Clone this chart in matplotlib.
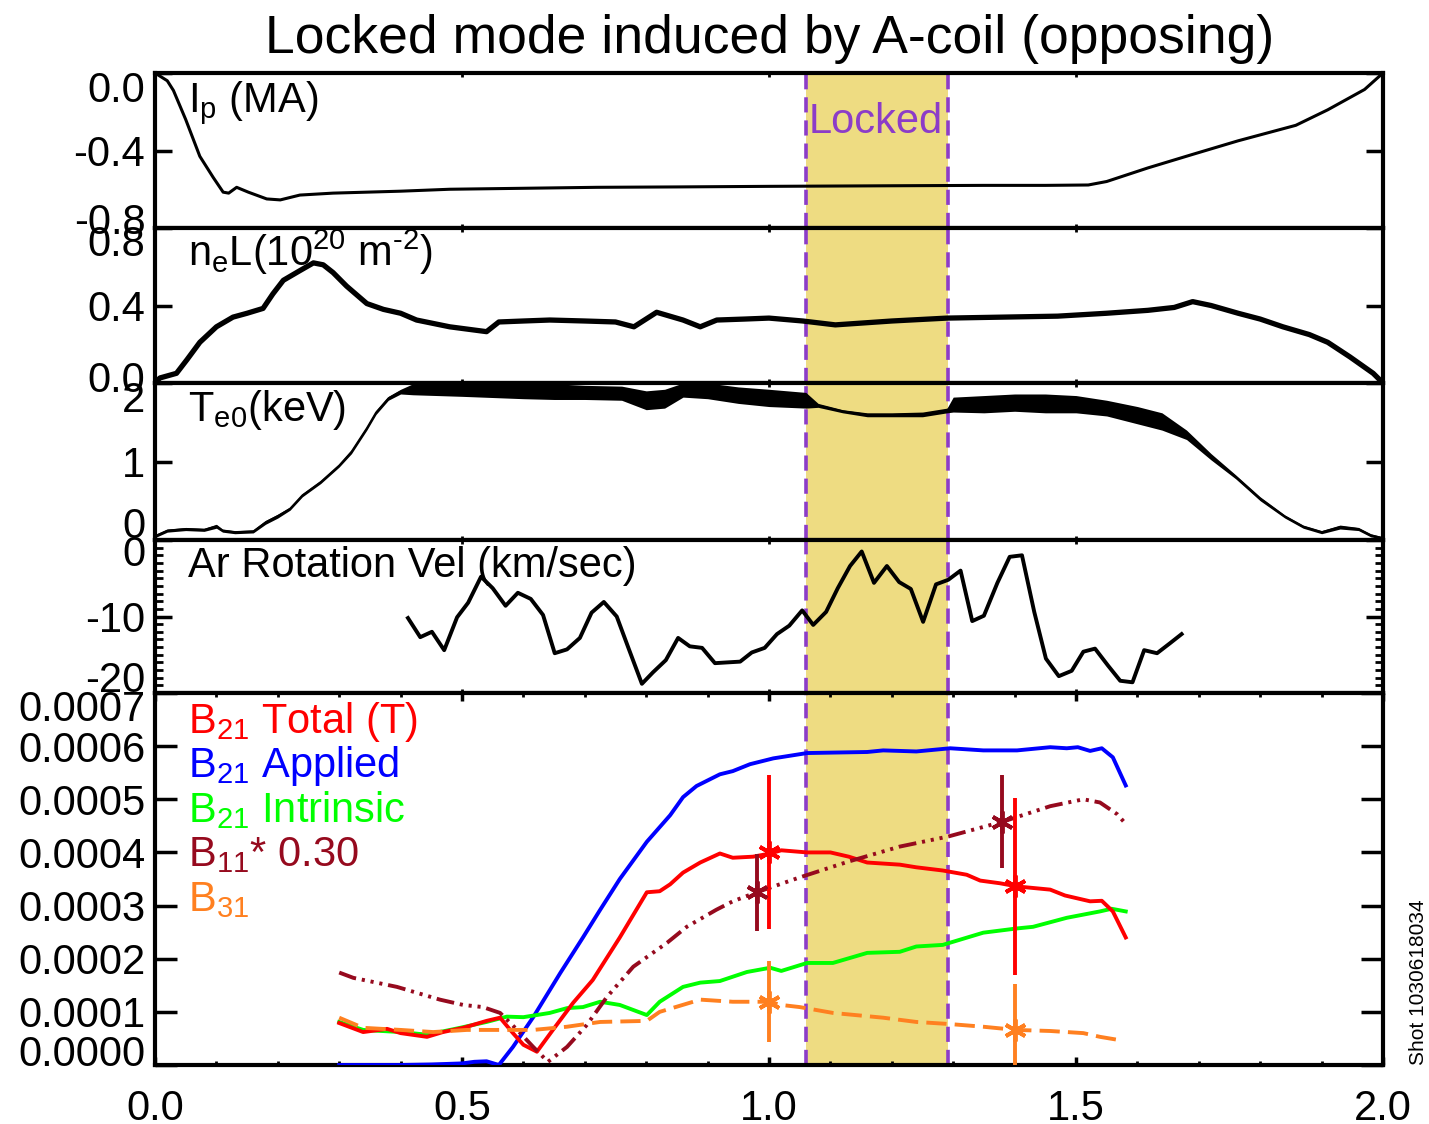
import numpy as np
import matplotlib
matplotlib.use('Agg')
import matplotlib.pyplot as plt
import matplotlib.transforms as mtransforms
from matplotlib.ticker import MultipleLocator

plt.rcParams['font.family'] = ['Liberation Sans', 'DejaVu Sans']
plt.rcParams['mathtext.fontset'] = 'custom'
plt.rcParams['mathtext.rm'] = 'Liberation Sans'
plt.rcParams['mathtext.it'] = 'Liberation Sans:italic'
plt.rcParams['mathtext.bf'] = 'Liberation Sans:bold'
plt.rcParams['axes.unicode_minus'] = False

# ---- data ----
lock_start, lock_end = 1.060, 1.291

ip_t = [0.0, 0.02, 0.03, 0.05, 0.073, 0.095, 0.111, 0.12, 0.133, 0.152, 0.182, 0.204, 0.236,
        0.29, 0.40, 0.48, 0.60, 0.72, 0.85, 1.0, 1.2, 1.35, 1.45, 1.52, 1.55, 1.617, 1.69,
        1.764, 1.858, 1.91, 1.97, 2.0]
ip_v = [0.0, -0.04, -0.09, -0.24, -0.43, -0.54, -0.615, -0.62, -0.59, -0.615, -0.65, -0.655,
        -0.63, -0.62, -0.61, -0.60, -0.595, -0.59, -0.588, -0.585, -0.582, -0.58, -0.58, -0.578,
        -0.56, -0.49, -0.42, -0.35, -0.27, -0.19, -0.085, 0.0]

ne_t = [0.0, 0.008, 0.035, 0.052, 0.073, 0.10, 0.127, 0.15, 0.176, 0.192, 0.209, 0.236, 0.258,
        0.274, 0.29, 0.312, 0.345, 0.372, 0.40, 0.426, 0.48, 0.54, 0.56, 0.60, 0.643, 0.70, 0.75,
        0.78, 0.817, 0.86, 0.888, 0.915, 0.96, 1.0, 1.055, 1.108, 1.2, 1.29, 1.38, 1.47, 1.55,
        1.617, 1.66, 1.69, 1.72, 1.764, 1.80, 1.837, 1.88, 1.91, 1.946, 1.984, 2.0]
ne_v = [0.0, 0.026, 0.05, 0.12, 0.21, 0.29, 0.34, 0.36, 0.385, 0.46, 0.53, 0.58, 0.62, 0.61,
        0.57, 0.50, 0.41, 0.38, 0.36, 0.325, 0.29, 0.265, 0.315, 0.32, 0.325, 0.32, 0.315, 0.29,
        0.365, 0.325, 0.29, 0.325, 0.33, 0.335, 0.32, 0.30, 0.32, 0.335, 0.34, 0.345, 0.36,
        0.375, 0.39, 0.42, 0.40, 0.36, 0.33, 0.29, 0.25, 0.21, 0.135, 0.05, 0.0]

te_t = [0.0, 0.02, 0.05, 0.08, 0.10, 0.11, 0.13, 0.16, 0.18, 0.20, 0.22, 0.24, 0.27, 0.30,
        0.32, 0.345, 0.36, 0.38, 0.40, 0.42, 0.50, 0.60, 0.65, 0.70, 0.76, 0.80, 0.83, 0.86,
        0.90, 0.95, 1.00, 1.06, 1.08, 1.12, 1.16, 1.20, 1.25, 1.29, 1.30, 1.35, 1.40, 1.45,
        1.50, 1.55, 1.60, 1.64, 1.68, 1.72, 1.76, 1.80, 1.84, 1.87, 1.90, 1.93, 1.96, 1.98, 2.0]
te_lo = [0.03, 0.10, 0.12, 0.11, 0.15, 0.10, 0.08, 0.09, 0.20, 0.28, 0.38, 0.55, 0.72, 0.93,
         1.10, 1.40, 1.60, 1.78, 1.86, 1.85, 1.83, 1.80, 1.79, 1.79, 1.78, 1.66, 1.68, 1.82,
         1.80, 1.74, 1.70, 1.68, 1.69, 1.62, 1.57, 1.57, 1.57, 1.62, 1.63, 1.62, 1.64, 1.62,
         1.62, 1.58, 1.48, 1.40, 1.28, 1.02, 0.78, 0.50, 0.28, 0.15, 0.08, 0.14, 0.12, 0.04, 0.01]
te_hi = [0.07, 0.14, 0.16, 0.15, 0.20, 0.14, 0.12, 0.13, 0.25, 0.33, 0.42, 0.59, 0.76, 0.97,
         1.15, 1.45, 1.65, 1.83, 1.92, 1.99, 2.0, 2.0, 1.99, 1.97, 1.96, 1.90, 1.92, 2.0,
         2.0, 1.95, 1.92, 1.88, 1.74, 1.66, 1.62, 1.62, 1.63, 1.68, 1.82, 1.84, 1.86, 1.86,
         1.84, 1.78, 1.70, 1.62, 1.40, 1.10, 0.83, 0.55, 0.32, 0.19, 0.12, 0.19, 0.16, 0.08, 0.04]

ar_t = [0.412, 0.432, 0.451, 0.471, 0.492, 0.510, 0.531, 0.550, 0.571, 0.591, 0.612, 0.632,
        0.651, 0.671, 0.692, 0.711, 0.731, 0.752, 0.771, 0.793, 0.811, 0.832, 0.852, 0.871,
        0.891, 0.912, 0.932, 0.953, 0.972, 0.993, 1.013, 1.033, 1.054, 1.072, 1.093, 1.112,
        1.132, 1.151, 1.171, 1.192, 1.212, 1.231, 1.251, 1.272, 1.292, 1.312, 1.331, 1.350,
        1.372, 1.392, 1.412, 1.432, 1.451, 1.472, 1.493, 1.512, 1.531, 1.552, 1.572, 1.592,
        1.611, 1.632, 1.653, 1.672]
ar_v = [-10.2, -12.7, -12.0, -14.4, -10.1, -8.2, -4.8, -6.3, -8.6, -6.9, -7.7, -9.8,
        -14.8, -14.3, -12.8, -9.5, -8.1, -10.0, -14.1, -18.8, -17.3, -15.7, -12.8, -13.9,
        -14.1, -16.1, -16.0, -15.9, -14.7, -14.1, -12.3, -11.2, -9.2, -11.1, -9.4, -6.3,
        -3.4, -1.5, -5.6, -3.4, -5.5, -6.4, -10.7, -5.8, -5.2, -4.0, -10.6, -9.9,
        -5.6, -2.2, -2.0, -9.4, -15.5, -17.8, -17.1, -14.6, -14.2, -16.4, -18.4, -18.6,
        -14.4, -14.8, -13.5, -12.3]

# B values below are in units of 1e-4 T
bap_t = [0.30, 0.34, 0.40, 0.45, 0.50, 0.52, 0.54, 0.56, 0.583, 0.616, 0.66, 0.697, 0.725,
         0.757, 0.801, 0.839, 0.86, 0.882, 0.92, 0.941, 0.969, 1.007, 1.062, 1.16, 1.186, 1.24,
         1.295, 1.349, 1.404, 1.458, 1.485, 1.503, 1.523, 1.542, 1.56, 1.581]
bap_v = [0.0, 0.0, 0.0, 0.01, 0.03, 0.06, 0.07, 0.0, 0.34, 0.9, 1.73, 2.4, 2.92, 3.5, 4.2,
         4.7, 5.04, 5.25, 5.47, 5.53, 5.66, 5.77, 5.87, 5.89, 5.92, 5.9, 5.96, 5.92, 5.92, 5.98,
         5.96, 5.98, 5.91, 5.96, 5.79, 5.26]

btot_t = [0.30, 0.339, 0.378, 0.40, 0.443, 0.469, 0.502, 0.54, 0.562, 0.583, 0.60, 0.622,
          0.648, 0.681, 0.713, 0.757, 0.801, 0.822, 0.839, 0.86, 0.888, 0.92, 0.941, 0.974,
          1.002, 1.02, 1.062, 1.10, 1.13, 1.16, 1.213, 1.24, 1.283, 1.322, 1.344, 1.376, 1.404,
          1.458, 1.482, 1.523, 1.542, 1.56, 1.581]
btot_v = [0.79, 0.62, 0.68, 0.60, 0.53, 0.62, 0.70, 0.83, 0.89, 0.60, 0.38, 0.25, 0.66, 1.17,
          1.60, 2.40, 3.25, 3.27, 3.40, 3.62, 3.81, 3.98, 3.90, 3.92, 3.98, 4.04, 4.00, 4.00,
          3.92, 3.81, 3.77, 3.72, 3.66, 3.58, 3.47, 3.42, 3.36, 3.30, 3.19, 3.08, 3.09, 2.89, 2.40]

bint_t = [0.30, 0.339, 0.40, 0.443, 0.497, 0.54, 0.573, 0.60, 0.643, 0.671, 0.697, 0.725,
          0.757, 0.801, 0.822, 0.86, 0.888, 0.92, 0.964, 1.002, 1.02, 1.062, 1.104, 1.16,
          1.213, 1.24, 1.283, 1.349, 1.404, 1.43, 1.485, 1.539, 1.558, 1.581]
bint_v = [0.81, 0.66, 0.62, 0.57, 0.70, 0.81, 0.91, 0.90, 0.98, 1.07, 1.09, 1.19, 1.13, 0.94,
          1.19, 1.47, 1.55, 1.58, 1.75, 1.83, 1.77, 1.92, 1.92, 2.11, 2.13, 2.23, 2.26, 2.49,
          2.57, 2.60, 2.77, 2.89, 2.94, 2.89]

b11_t = [0.30, 0.323, 0.394, 0.464, 0.502, 0.534, 0.562, 0.59, 0.616, 0.64, 0.671, 0.703,
         0.736, 0.779, 0.834, 0.866, 0.914, 0.941, 0.98, 1.05, 1.13, 1.213, 1.292, 1.381,
         1.458, 1.512, 1.539, 1.567, 1.58]
b11_v = [1.74, 1.64, 1.47, 1.23, 1.13, 1.09, 0.98, 0.66, 0.34, 0.06, 0.34, 0.75, 1.28, 1.85,
         2.30, 2.60, 2.92, 3.08, 3.25, 3.53, 3.83, 4.11, 4.30, 4.58, 4.87, 5.00, 4.94, 4.72, 4.55]

b31_t = [0.30, 0.339, 0.40, 0.453, 0.508, 0.562, 0.616, 0.671, 0.725, 0.801, 0.822, 0.888,
         0.941, 1.0, 1.02, 1.05, 1.104, 1.186, 1.24, 1.295, 1.349, 1.402, 1.458, 1.512, 1.539, 1.57]
b31_v = [0.89, 0.70, 0.66, 0.62, 0.66, 0.66, 0.66, 0.72, 0.81, 0.83, 1.00, 1.23, 1.19, 1.19,
         1.13, 1.09, 0.98, 0.89, 0.81, 0.77, 0.72, 0.66, 0.64, 0.60, 0.53, 0.47]

# error bars (1e-4 T)
etot_t, etot_v, etot_e = [1.0, 1.4], [4.0, 3.36], [1.45, 1.67]
e11_t, e11_v, e11_e = [0.98, 1.38], [3.25, 4.58], [0.72, 0.88]
e31_t, e31_v, e31_e = [1.0, 1.4], [1.19, 0.66], [0.76, 0.87]

C_TOT, C_AP, C_INT, C_11, C_31 = '#FF0000', '#0000FF', '#00FF00', '#960A1E', '#FF8020'
PURPLE = '#8C3CC8'
BAND = '#EEDC82'
FS = 30

# ---- layout ----
W_PX, H_PX = 1429, 1124
fig = plt.figure(figsize=(W_PX / 100, H_PX / 100), dpi=100)
left, right = 155, 1383
bounds = [(73, 228), (228, 383), (383, 540), (540, 693), (693, 1065)]
axes = []
for top, bot in bounds:
    ax = fig.add_axes([left / W_PX, 1 - bot / H_PX, (right - left) / W_PX, (bot - top) / H_PX])
    axes.append(ax)

for i, ax in enumerate(axes):
    ax.set_xlim(0, 2.0)
    for s in ax.spines.values():
        s.set_linewidth(3)
    ax.axvspan(lock_start, lock_end, color=BAND, lw=0, zorder=0)
    for xv in (lock_start, lock_end):
        ax.axvline(xv, color=PURPLE, lw=2.6, ls=(0, (4.2, 2.2)), zorder=1)
    ax.set_xticks([0, 0.5, 1.0, 1.5, 2.0])
    ax.tick_params(axis='both', direction='in', top=True, right=True, labelsize=FS)
    ax.tick_params(axis='y', length=12, width=2.5, pad=7)
    if i < 4:
        ax.tick_params(axis='x', length=3, width=2, labelbottom=False)
    else:
        ax.xaxis.set_minor_locator(MultipleLocator(0.1))
        ax.tick_params(axis='x', which='major', length=6, width=2.5, pad=17)
        ax.tick_params(axis='x', which='minor', length=3, width=2, top=True, direction='in')
        ax.tick_params(axis='y', length=16)
        ax.set_xticklabels(['0.0', '0.5', '1.0', '1.5', '2.0'])

def end_labels(ax, ticks, labels, up_px, down_px):
    # end labels sit shifted inward, as in the original IDL plot
    ax.set_yticks(ticks)
    ax.set_yticklabels(labels)
    tl = ax.get_yticklabels()
    tl[0].set_transform(tl[0].get_transform() +
                        mtransforms.ScaledTranslation(0, up_px / 100, fig.dpi_scale_trans))
    tl[-1].set_transform(tl[-1].get_transform() +
                         mtransforms.ScaledTranslation(0, -down_px / 100, fig.dpi_scale_trans))

ax1, ax2, ax3, ax4, ax5 = axes

# panel 1: Ip
ax1.plot(ip_t, ip_v, color='black', lw=2.2, zorder=3)
ax1.set_ylim(-0.8, 0.0)
end_labels(ax1, [-0.8, -0.4, 0.0], ['-0.8', '-0.4', '0.0'], 10, 13)
ax1.text(0.027, 0.748, r'I$_\mathrm{p}$ (MA)', transform=ax1.transAxes, fontsize=FS, va='baseline')
ax1.text(lock_start + 0.004, 0.613, 'Locked', transform=ax1.get_xaxis_transform(),
         color=PURPLE, fontsize=FS, va='baseline', zorder=4)

# panel 2: ne L
ax2.plot(ne_t, ne_v, color='black', lw=3.8, zorder=3)
ax2.set_ylim(0.0, 0.8)
end_labels(ax2, [0.0, 0.4, 0.8], ['0.0', '0.4', '0.8'], 7, 13)
ax2.text(0.027, 0.755, r'n$_\mathrm{e}$L(10$^\mathrm{20}$ m$^{\text{-2}}$)', transform=ax2.transAxes,
         fontsize=FS, va='baseline')

# panel 3: Te0
ax3.fill_between(te_t, te_lo, te_hi, color='black', lw=0, zorder=3)
ax3.plot(te_t, (np.array(te_lo) + np.array(te_hi)) / 2, color='black', lw=1.3, zorder=3)
ax3.set_ylim(0, 2)
end_labels(ax3, [0, 1, 2], ['0', '1', '2'], 18, 14)
ax3.text(0.027, 0.758, r'T$_\mathrm{e0}$(keV)', transform=ax3.transAxes, fontsize=FS, va='baseline')

# panel 4: Ar rotation
ax4.plot(ar_t, ar_v, color='black', lw=2.8, zorder=3)
ax4.set_ylim(-20, 0)
ax4.yaxis.set_minor_locator(MultipleLocator(1))
ax4.tick_params(axis='y', which='minor', length=6, width=2, direction='in', right=True)
end_labels(ax4, [-20, -10, 0], ['-20', '-10', '0'], 16, 11)
ax4.text(0.027, 0.758, 'Ar Rotation Vel (km/sec)', transform=ax4.transAxes, fontsize=FS,
         va='baseline')

# panel 5: B fields
sc = 1e-4
LW = 2.8
ax5.plot(bap_t, np.array(bap_v) * sc, color=C_AP, lw=LW, zorder=3)
ax5.plot(bint_t, np.array(bint_v) * sc, color=C_INT, lw=LW, zorder=3)
ax5.plot(btot_t, np.array(btot_v) * sc, color=C_TOT, lw=LW, zorder=3)
ax5.plot(b11_t, np.array(b11_v) * sc, color=C_11, lw=LW, zorder=3,
         ls=(0, (4.6, 1.5, 0.8, 1.5, 0.8, 1.5, 0.8, 1.5)))
ax5.plot(b31_t, np.array(b31_v) * sc, color=C_31, lw=LW, zorder=3, ls=(0, (5.2, 2.1)))
for et, ev, ee, col in [(etot_t, etot_v, etot_e, C_TOT), (e11_t, e11_v, e11_e, C_11),
                        (e31_t, e31_v, e31_e, C_31)]:
    ax5.errorbar(et, np.array(ev) * sc, yerr=np.array(ee) * sc, fmt='none', ecolor=col,
                 elinewidth=2.8, capsize=0, zorder=4)
    ax5.plot(et, np.array(ev) * sc, ls='none', marker=(6, 2, 0), ms=16, mew=2.8,
             color=col, zorder=4)
ax5.set_ylim(0, 7e-4)
b_ticks = [i * 1e-4 for i in range(8)]
end_labels(ax5, b_ticks, ['%.4f' % v for v in b_ticks], 15, 13)

legend_rows = [(r'B$_\mathrm{21}$ Total (T)', C_TOT), (r'B$_\mathrm{21}$ Applied', C_AP),
               (r'B$_\mathrm{21}$ Intrinsic', C_INT), (r'B$_\mathrm{11}$* 0.30', C_11),
               (r'B$_\mathrm{31}$', C_31)]
for k, (txt, col) in enumerate(legend_rows):
    ypx = 733 + k * 44.5
    ax5.text(0.027, (1065 - ypx) / 372, txt, transform=ax5.transAxes, fontsize=FS,
             color=col, va='baseline')

fig.suptitle('Locked mode induced by A-coil (opposing)', x=770 / W_PX, y=1 - 14 / H_PX,
             va='top', fontsize=38.5)
fig.text(1418 / W_PX, 1 - 982 / H_PX, 'Shot 1030618034', rotation=90, fontsize=15,
         ha='center', va='center')

fig.savefig('out.png', dpi=100)
